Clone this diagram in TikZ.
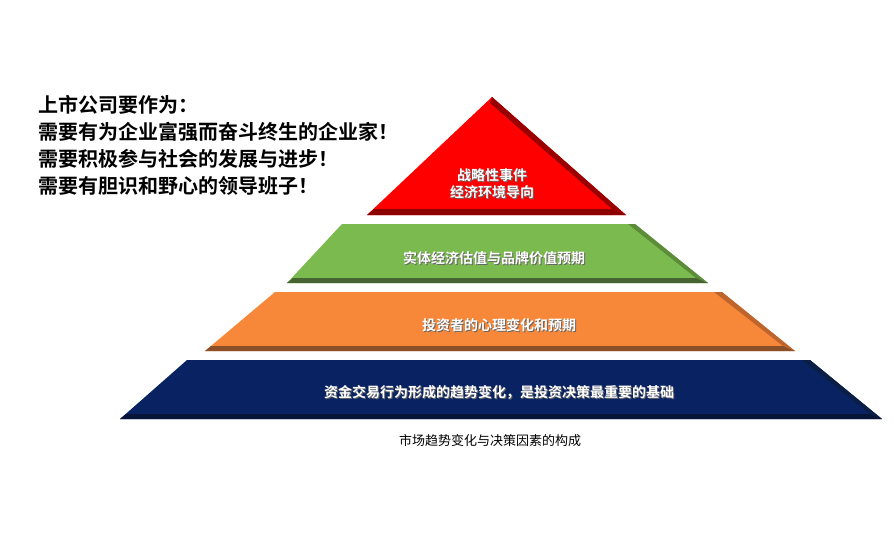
\documentclass[tikz,border=0pt]{standalone}
\usepackage{fontspec}
\newfontfamily\cjk{Noto Sans CJK SC}
\newfontfamily\cjkb{Noto Sans CJK SC Bold}
\begin{document}
\begin{tikzpicture}[x=1pt,y=-1pt,
  lab/.style={font=\cjkb\fontsize{14}{17}\selectfont,text=white,align=center,inner sep=0pt},
  shadowlab/.style={font=\cjkb\fontsize{14}{17}\selectfont,text=black!60,align=center,inner sep=0pt}]
\useasboundingbox (0,0) rectangle (895,560);
% top triangle
\fill[red!100] (367,215) -- (492,97) -- (626,215) -- cycle;
\fill[red!60!black] (492,97) -- (626,215) -- (612,209) -- (490,103) -- cycle;
\fill[red!55!black] (367,215) -- (626,215) -- (612,209) -- (374,209) -- cycle;
% green
\fill[green!45!olive!60!lime!70!black!10!green!60!black!0, fill={rgb,255:red,122;green,186;blue,78}] (287,283) -- (342,224) -- (635,224) -- (708,283) -- cycle;
\fill[fill={rgb,255:red,92;green,140;blue,58}] (635,224) -- (708,283) -- (696,278) -- (628,224) -- cycle;
\fill[fill={rgb,255:red,70;green,100;blue,50}] (287,283) -- (708,283) -- (696,278) -- (293,278) -- cycle;
% orange
\fill[fill={rgb,255:red,247;green,136;blue,58}] (205,351) -- (275,292) -- (722,292) -- (795,351) -- cycle;
\fill[fill={rgb,255:red,190;green,100;blue,45}] (722,292) -- (795,351) -- (783,346) -- (714,292) -- cycle;
\fill[fill={rgb,255:red,140;green,80;blue,40}] (205,351) -- (795,351) -- (783,346) -- (211,346) -- cycle;
% blue
\fill[fill={rgb,255:red,8;green,34;blue,98}] (120,419) -- (187,360) -- (810,360) -- (882,419) -- cycle;
\fill[fill={rgb,255:red,10;green,30;blue,70}] (810,360) -- (882,419) -- (870,414) -- (802,360) -- cycle;
\fill[fill={rgb,255:red,5;green,20;blue,55}] (120,419) -- (882,419) -- (870,414) -- (126,414) -- cycle;
% labels
\foreach \nm/\x/\y/\t in {l1/492/184/{战略性事件\\经济环境导向},l2/494/258/{实体经济估值与品牌价值预期},l3/499/325/{投资者的心理变化和预期},l4/499/392/{资金交易行为形成的趋势变化，是投资决策最重要的基础}}{
  \node[shadowlab] at (\x+1,\y+1) {\t};
  \node[lab] (\nm) at (\x,\y) {\t};
}
\node[font=\cjkb\fontsize{20}{27}\selectfont,align=left,anchor=north west,inner sep=0pt] (side) at (38,95) {上市公司要作为：\\需要有为企业富强而奋斗终生的企业家！\\需要积极参与社会的发展与进步！\\需要有胆识和野心的领导班子！};
\node[font=\cjk\fontsize{13}{15}\selectfont] (cap) at (490,441) {市场趋势变化与决策因素的构成};
\end{tikzpicture}
\end{document}
